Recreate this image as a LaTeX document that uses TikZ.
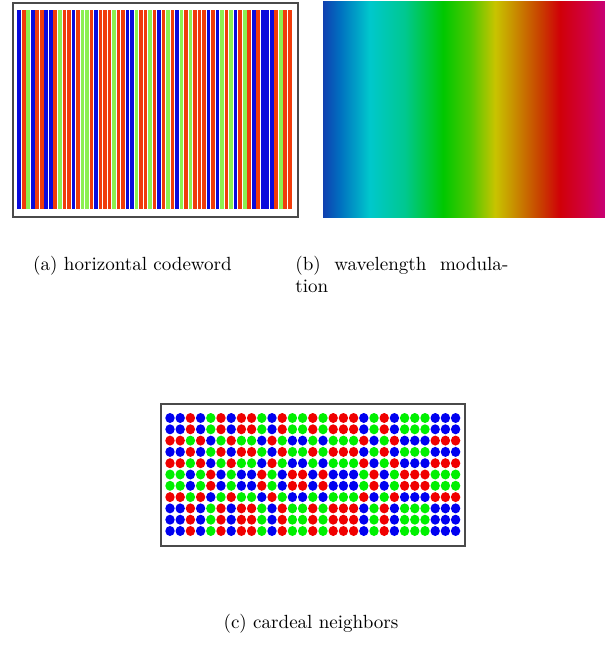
\documentclass[tikz,border=0pt]{standalone}
\usepackage{xcolor}
\usepackage{tikz}
\usetikzlibrary{positioning,calc}
\definecolor{stripeB}{HTML}{0A0ADC}
\definecolor{stripeR}{HTML}{F03C0A}
\definecolor{stripeG}{HTML}{8CF050}
\definecolor{dotcol0}{HTML}{0000F0}
\definecolor{dotcol1}{HTML}{F00000}
\definecolor{dotcol2}{HTML}{00F000}
\definecolor{frameInk}{HTML}{4A4A4A}
\definecolor{specA}{HTML}{1040B0}
\definecolor{specB}{HTML}{0070C0}
\definecolor{specC}{HTML}{00C8CC}
\definecolor{specD}{HTML}{00C890}
\definecolor{specE}{HTML}{00C800}
\definecolor{specF}{HTML}{50C800}
\definecolor{specG}{HTML}{C8C400}
\definecolor{specH}{HTML}{C88C00}
\definecolor{specI}{HTML}{C84000}
\definecolor{specJ}{HTML}{D00008}
\definecolor{specK}{HTML}{D00040}
\definecolor{specL}{HTML}{C80074}
\pgfdeclarehorizontalshading{spectrum}{100bp}{color(0bp)=(specA); color(25bp)=(specA);
  color(28bp)=(specB); color(33.3bp)=(specC); color(39.5bp)=(specD); color(46.3bp)=(specE);
  color(51.1bp)=(specF); color(55.5bp)=(specG); color(59bp)=(specH); color(63.5bp)=(specI);
  color(67bp)=(specJ); color(71.5bp)=(specK); color(75bp)=(specL); color(100bp)=(specL)}
\tikzset{
  frame/.style={draw=frameInk,line width=1pt},
  caption/.style={inner sep=0pt,font=\normalsize}
}

\begin{document}
\begin{tikzpicture}[x=0.525pt,y=-0.525pt]
  \useasboundingbox (0,0) rectangle (605,654);

  \foreach \c [count=\i from 0] in {B,R,G,B,R,R,B,B,R,G,R,R,B,R,G,G,R,B,R,R,R,G,R,R,B,B,G,R,R,G,R,
                                   B,R,G,R,B,G,R,G,R,R,R,B,R,B,G,R,G,B,R,G,R,B,R,B,B,B,R,G,R,R}
    \fill[stripe\c] ({17+4.51*\i+0.4},10) rectangle ({17+4.51*(\i+1)-0.5},209);
  \draw[frame] (12.7,3.3) rectangle (298,217);

  \shade[shading=spectrum] (323,2) rectangle (605,218);

  \node[caption,anchor=base] (capA) at (132.5,270) {(a) horizontal codeword};
  \node[caption,anchor=base west,text width=111.8pt,align=justify] (capB) at (295,270)
    {(b) wavelength modula-\linebreak tion};

  \foreach \c [count=\i from 0] in {0,0,1,0,2,1,0,1,1,2,0,1,2,2,1,2,1,1,1,0,2,1,0,2,2,2,0,0,0}
    \foreach \s [count=\j from 0] in {0,0,1,0,1,2,2,1,0,0,0}{
      \pgfmathtruncatemacro\k{mod(\c+\s,3)}
      \fill[dotcol\k] ({170+10.2*\i},{418+11.3*\j}) ellipse [x radius=4.7,y radius=5];
    }
  \draw[frame] (161,404) rectangle (465,546);

  \node[caption,anchor=base] (capC) at (311,628) {(c) cardeal neighbors};
\end{tikzpicture}
\end{document}
